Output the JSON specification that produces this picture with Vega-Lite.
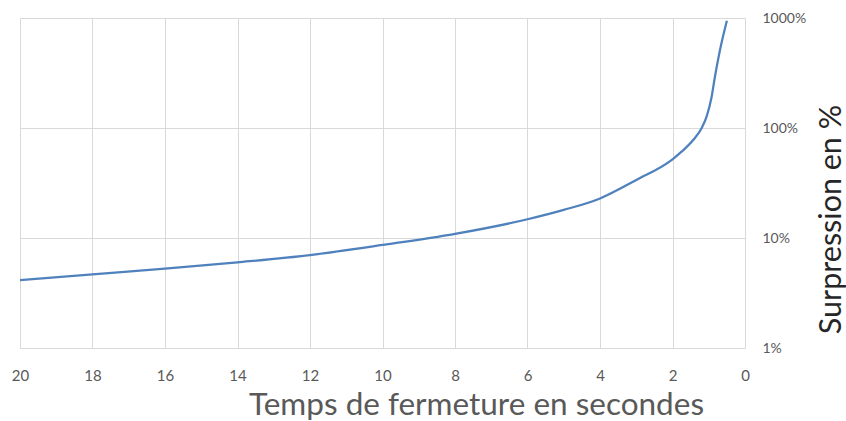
{
  "$schema": "https://vega.github.io/schema/vega-lite/v6.json",
  "width": 725,
  "height": 330,
  "autosize": {"type": "none"},
  "padding": {"left": 20, "top": 18, "right": 101, "bottom": 73},
  "background": "white",
  "config": {
    "view": {"stroke": null},
    "font": "Lato",
    "axis": {
      "gridColor": "#d9d9d9",
      "gridWidth": 1,
      "domain": false,
      "ticks": false,
      "labelColor": "#595959",
      "labelFont": "Lato",
      "titleFont": "Lato",
      "titleFontWeight": "normal"
    }
  },
  "data": {
    "values": [
      {"t": 20, "s": 4.15},
      {"t": 18, "s": 4.68},
      {"t": 16, "s": 5.26},
      {"t": 14, "s": 6.01},
      {"t": 12, "s": 7.0},
      {"t": 10, "s": 8.64},
      {"t": 8, "s": 10.9},
      {"t": 6, "s": 14.8},
      {"t": 5, "s": 18.0},
      {"t": 4, "s": 22.9},
      {"t": 3, "s": 33.7},
      {"t": 2, "s": 51.9},
      {"t": 1.75, "s": 60.9},
      {"t": 1.43, "s": 77.8},
      {"t": 1.19, "s": 100.6},
      {"t": 1.06, "s": 126.7},
      {"t": 0.92, "s": 192.6},
      {"t": 0.83, "s": 292},
      {"t": 0.69, "s": 512},
      {"t": 0.5, "s": 945}
    ]
  },
  "mark": {"type": "line", "color": "#4f81bd", "strokeWidth": 2.25, "interpolate": "monotone", "clip": true},
  "encoding": {
    "x": {
      "field": "t",
      "type": "quantitative",
      "scale": {"domain": [0, 20], "reverse": true, "nice": false, "zero": false},
      "axis": {
        "values": [0, 2, 4, 6, 8, 10, 12, 14, 16, 18, 20],
        "labelFontSize": 15,
        "labelPadding": 20,
        "labelFlush": false,
        "title": "Temps de fermeture en secondes",
        "titleFontSize": 31.5,
        "titleColor": "#595959",
        "titleX": 456,
        "titleY": 66,
        "titleBaseline": "alphabetic",
        "titleAlign": "center"
      }
    },
    "y": {
      "field": "s",
      "type": "quantitative",
      "scale": {"type": "log", "domain": [1, 1000], "nice": false},
      "axis": {
        "orient": "right",
        "values": [1, 10, 100, 1000],
        "labelExpr": "datum.value + '%'",
        "labelFontSize": 14,
        "labelPadding": 17,
        "labelAlign": "left",
        "title": "Surpression en %",
        "titleFontSize": 30.5,
        "titleColor": "#262626",
        "titleAngle": 270,
        "titleX": 86,
        "titleY": 201,
        "titleAlign": "center",
        "titleBaseline": "middle"
      }
    }
  }
}
